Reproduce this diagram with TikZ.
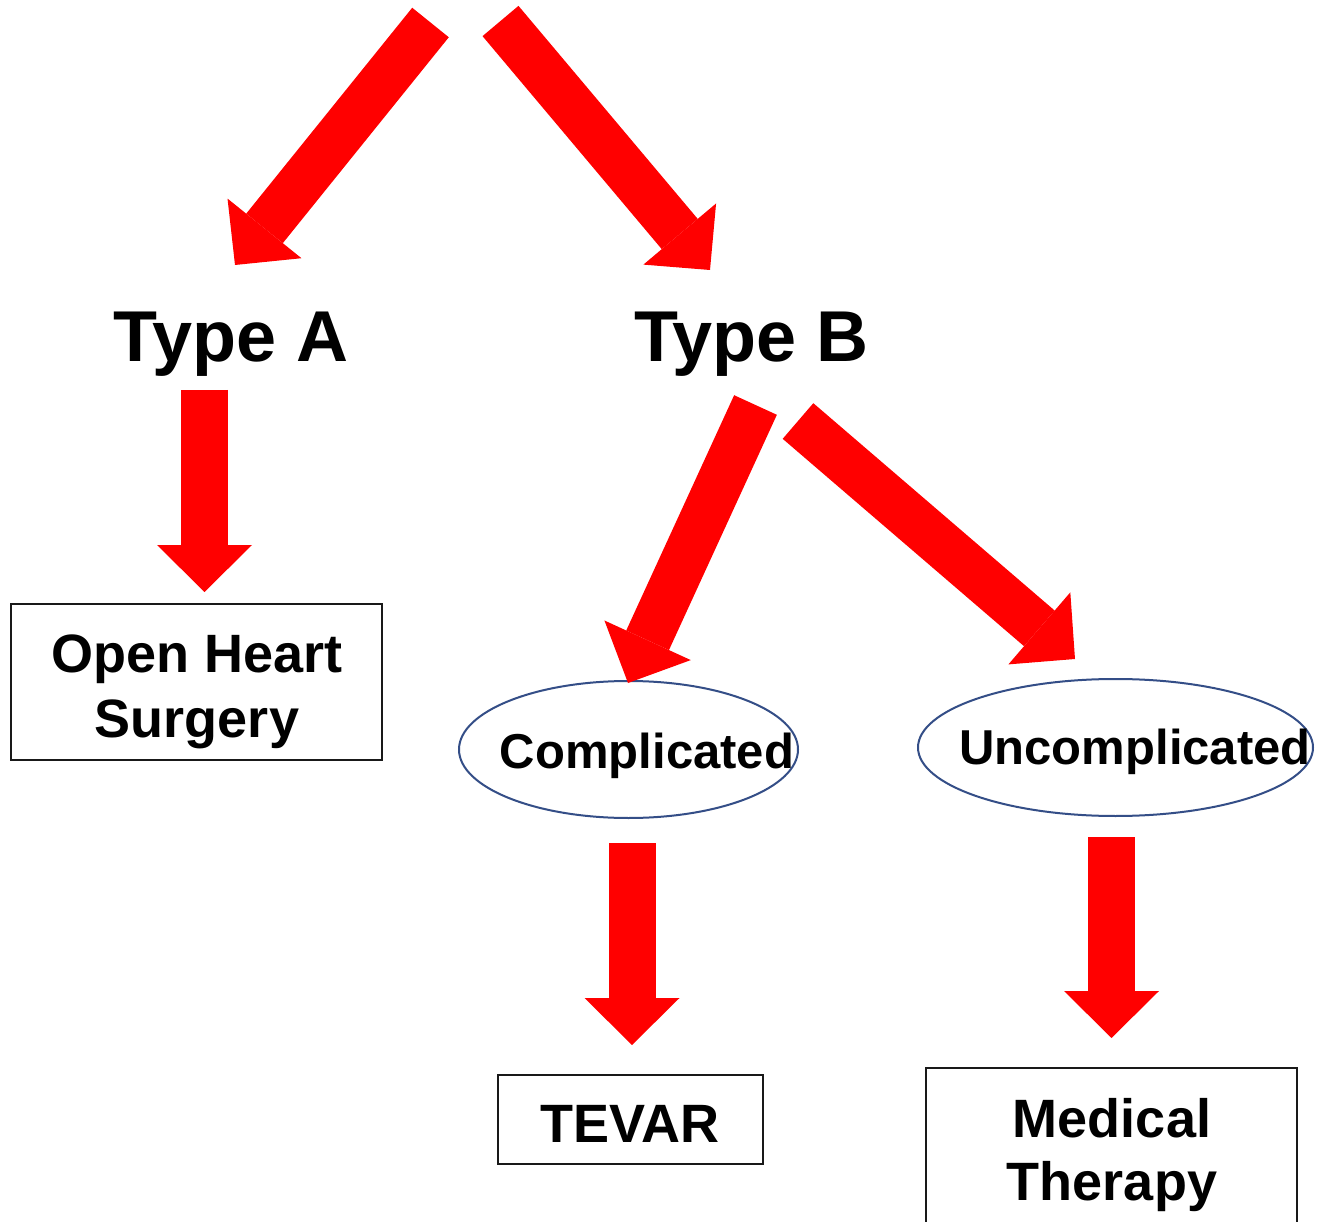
\documentclass[tikz,border=0pt]{standalone}
\usepackage{fontspec}
\setmainfont{Liberation Sans}
\usetikzlibrary{arrows.meta,shapes.geometric}
\definecolor{ellblue}{RGB}{52,78,135}
\tikzset{
  blockarrow/.style={draw=red, line width=47pt, -{Triangle[length=47pt,width=95pt,line width=0pt]}},
  boxnode/.style={draw=black!90, line width=2pt, rectangle, inner sep=0pt},
  ovalnode/.style={draw=ellblue, line width=2pt, ellipse, inner sep=0pt},
  lbl/.style={inner sep=0pt, anchor=base},
  bigfont/.style={font=\fontsize{72pt}{86pt}\selectfont\bfseries},
  midfont/.style={font=\fontsize{54pt}{65pt}\selectfont\bfseries},
  ovfont/.style={font=\fontsize{49pt}{59pt}\selectfont\bfseries},
}
\begin{document}
\begin{tikzpicture}[x=1pt,y=-1pt]
\clip (0,0) rectangle (1318,1222);
\fill[white] (0,0) rectangle (1318,1222);

% labels
\node[lbl,bigfont] (typeA) at (231,362) {Type A};
\node[lbl,bigfont] (typeB) at (751.5,362) {Type B};

% boxes
\node[boxnode, minimum width=371pt, minimum height=156pt] (ohs) at (196.5,682) {};
\node[lbl,midfont] (ohs1) at (197,672) {Open Heart};
\node[lbl,midfont] (ohs2) at (197,737) {Surgery};

\node[boxnode, minimum width=265pt, minimum height=89pt] (tevar) at (630.5,1119.5) {};
\node[lbl,midfont] (tevarT) at (630,1142) {TEVAR};

\node[boxnode, minimum width=371pt, minimum height=200pt] (med) at (1111.5,1168) {};
\node[lbl,midfont] (med1) at (1112,1137) {Medical};
\node[lbl,midfont] (med2) at (1112,1200) {Therapy};

% ellipses
\node[ovalnode, minimum width=339pt, minimum height=137pt] (comp) at (628.5,749.5) {};
\node[lbl,ovfont] (compT) at (647,768) {Complicated};
\node[ovalnode, minimum width=395pt, minimum height=137pt] (uncomp) at (1115.5,747.5) {};
\node[lbl,ovfont] (uncompT) at (1135,764) {Uncomplicated};

% arrows
\coordinate (a1s) at (430.5,22.5);  \coordinate (a1e) at (235,265);
\coordinate (a2s) at (500.5,21);    \coordinate (a2e) at (710,270);
\coordinate (a3s) at (204.5,390);   \coordinate (a3e) at (204.5,592);
\coordinate (a4s) at (755.5,405);   \coordinate (a4e) at (628,683);
\coordinate (a5s) at (798,421);     \coordinate (a5e) at (1075,659);
\coordinate (a6s) at (632,843);     \coordinate (a6e) at (632,1045);
\coordinate (a7s) at (1111.5,837);  \coordinate (a7e) at (1111.5,1038);
\draw[blockarrow] (a1s) -- (a1e);
\draw[blockarrow] (a2s) -- (a2e);
\draw[blockarrow] (a3s) -- (a3e);
\draw[blockarrow] (a4s) -- (a4e);
\draw[blockarrow] (a5s) -- (a5e);
\draw[blockarrow] (a6s) -- (a6e);
\draw[blockarrow] (a7s) -- (a7e);
\end{tikzpicture}
\end{document}
